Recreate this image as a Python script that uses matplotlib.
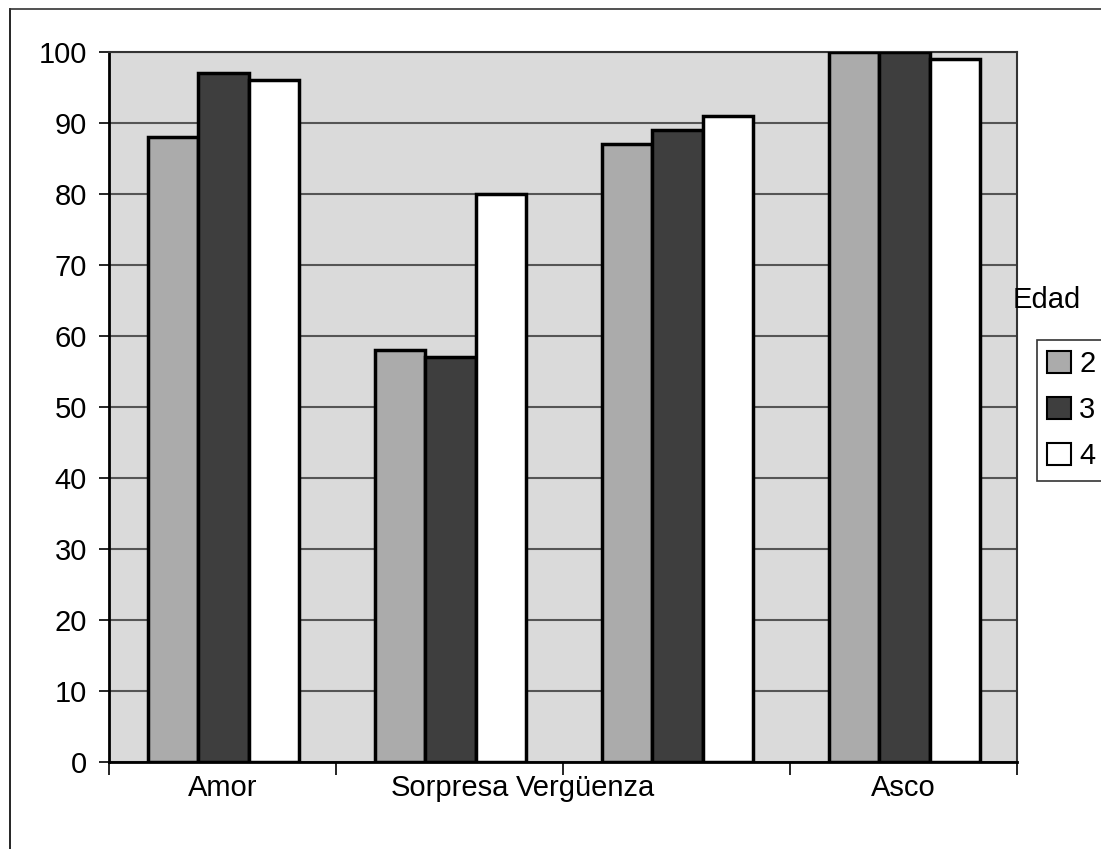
import matplotlib
matplotlib.use("Agg")
import matplotlib.pyplot as plt
from matplotlib.patches import Patch
from matplotlib.lines import Line2D

categories = ["Amor", "Sorpresa", "Vergüenza", "Asco"]
series_names = ["2", "3", "4"]
edad_2 = [88, 58, 87, 100]
edad_3 = [97, 57, 89, 100]
edad_4 = [96, 80, 91, 99]
yticks = [0, 10, 20, 30, 40, 50, 60, 70, 80, 90, 100]

plt.rcParams['font.family'] = ['Liberation Sans', 'DejaVu Sans']

W, H = 1101, 849
fig = plt.figure(figsize=(W / 100, H / 100), dpi=100)
fig.patch.set_facecolor('white')

# outer frame lines
fig.add_artist(Line2D([10 / W, 10 / W], [0, 1 - 9 / H], color='black', lw=1.2, transform=fig.transFigure))
fig.add_artist(Line2D([10 / W, 1], [1 - 9 / H, 1 - 9 / H], color='#333333', lw=1.2, transform=fig.transFigure))

ax = fig.add_axes([109 / W, 1 - 762 / H, (1017 - 109) / W, (762 - 52) / H])
ax.set_facecolor('#dadada')

colors = ['#ababab', '#3e3e3e', '#ffffff']
width = 0.222
offsets = [-width, 0.0, width]
series = [edad_2, edad_3, edad_4]
x = list(range(len(categories)))
for vals, off, c in zip(series, offsets, colors):
    ax.bar([xi + off + 0.005 for xi in x], vals, width=width, color=c,
           edgecolor='black', linewidth=2.5, zorder=3)

ax.set_ylim(0, 100)
ax.set_xlim(-0.5, len(categories) - 0.5)
ax.set_yticks(yticks)
ax.yaxis.grid(True, color='#555555', linewidth=1.5, zorder=1)
ax.set_axisbelow(True)
ax.tick_params(axis='y', labelsize=21, length=7, width=1.2, pad=9, direction='out')

# category boundaries as major x ticks, labels as minor ticks
ax.set_xticks([i - 0.5 for i in range(len(categories) + 1)])
ax.set_xticklabels([])
ax.tick_params(axis='x', which='major', length=9, width=1.2, direction='out')
label_pos = [0, 1, 1.6, 3]
ax.set_xticks(label_pos, minor=True)
ax.set_xticklabels(categories, minor=True)
ax.tick_params(axis='x', which='minor', length=0, labelsize=21, pad=9)

for s in ['left', 'bottom']:
    ax.spines[s].set_color('black')
    ax.spines[s].set_linewidth(2)
for s in ['top', 'right']:
    ax.spines[s].set_color('#333333')
    ax.spines[s].set_linewidth(1.5)

# legend
fig.text(1013 / W, 1 - 300 / H, "Edad", fontsize=21, va='center', ha='left')
handles = [Patch(facecolor=c, edgecolor='black', linewidth=1.5) for c in colors]
leg = fig.legend(handles, series_names, loc='upper left',
                 bbox_to_anchor=(1037 / W, 1 - 340 / H), fontsize=21,
                 frameon=True, fancybox=False, edgecolor='black',
                 handlelength=0.8, handleheight=0.8, handletextpad=0.3,
                 labelspacing=0.62, borderpad=0.35, borderaxespad=0)
leg.get_frame().set_linewidth(1.2)

fig.savefig("out.png", dpi=100)
